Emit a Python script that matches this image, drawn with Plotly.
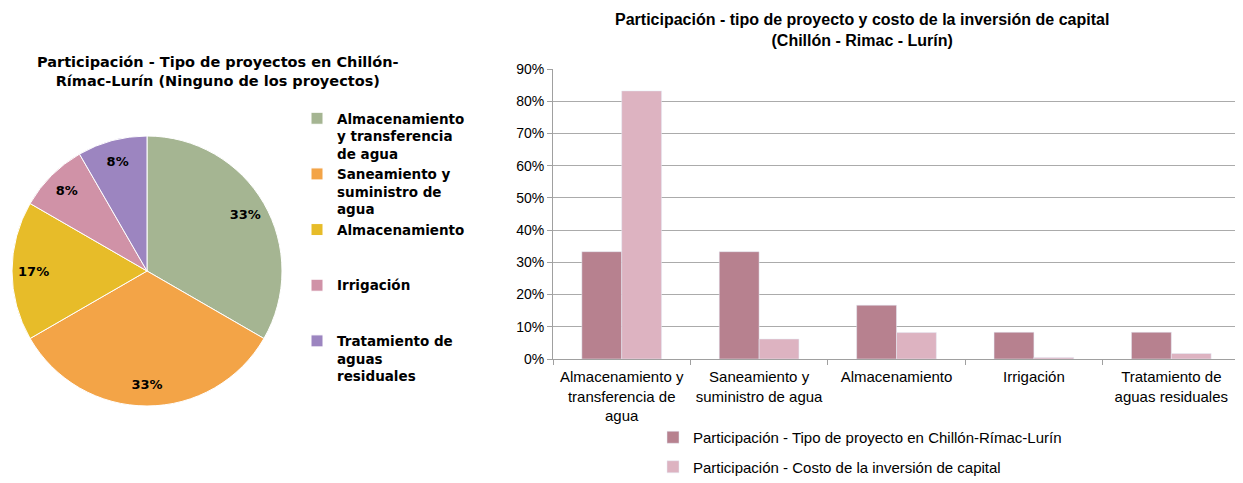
import plotly.graph_objects as go

# datos del grafico circular
pie_labels = ["Almacenamiento<br>y transferencia<br>de agua",
              "Saneamiento y<br>suministro de<br>agua",
              "Almacenamiento<br> <br> ",
              "Irrigación<br> <br> ",
              "Tratamiento de<br>aguas<br>residuales"]
pie_values = [4, 4, 2, 1, 1]
pie_colors = ["#A5B592", "#F3A447", "#E7BC29", "#D092A7", "#9C85C0"]

# datos del grafico de barras
bar_cats = ["Almacenamiento y<br>transferencia de<br>agua",
            "Saneamiento y<br>suministro de agua",
            "Almacenamiento",
            "Irrigación",
            "Tratamiento de<br>aguas residuales"]
tipo_proyecto = [0.333, 0.333, 0.167, 0.083, 0.083]
costo_inversion = [0.832, 0.062, 0.082, 0.005, 0.017]
y_ticks = [0, 0.1, 0.2, 0.3, 0.4, 0.5, 0.6, 0.7, 0.8, 0.9]

# la pagina html deja 8px de margen en el body
OFF = 8
W, H = 1243 - OFF, 483 - OFF


def fx(px):
    return (px - OFF) / W


def fy(py):
    return 1 - (py - OFF) / H


pie_font = "DejaVu Sans, Liberation Sans, sans-serif"
bar_font = "Liberation Sans, Arial, sans-serif"
pie_dom = dict(x=[fx(12), fx(282)], y=[fy(406), fy(136)])

fig = go.Figure()

fig.add_trace(go.Pie(
    labels=pie_labels, values=pie_values, sort=False, direction="clockwise",
    marker=dict(colors=pie_colors, line=dict(color="white", width=1)),
    textinfo="none", domain=pie_dom, legend="legend",
    hoverinfo="label+percent",
))
# anillo transparente solo para ubicar las etiquetas hacia el borde
fig.add_trace(go.Pie(
    labels=pie_labels, values=pie_values, sort=False, direction="clockwise",
    hole=0.68, showlegend=False,
    marker=dict(colors=["rgba(0,0,0,0)"] * len(pie_values), line=dict(width=0)),
    textinfo="percent", textposition="inside", insidetextorientation="horizontal",
    texttemplate="%{percent:.0%}",
    textfont=dict(family=pie_font, size=13, color="black", weight="bold"),
    domain=pie_dom, hoverinfo="skip",
))

fig.add_trace(go.Bar(
    x=bar_cats, y=tipo_proyecto, marker_color="#B7818F",
    name="Participación - Tipo de proyecto en Chillón-Rímac-Lurín",
    legend="legend2", legendgroup="a", xaxis="x", yaxis="y",
))
fig.add_trace(go.Bar(
    x=bar_cats, y=costo_inversion, marker_color="#DDB3C1",
    name="Participación - Costo de la inversión de capital",
    legend="legend2", legendgroup="b", xaxis="x", yaxis="y",
))

fig.update_layout(
    width=W, height=H,
    margin=dict(l=0, r=0, t=0, b=0),
    paper_bgcolor="white", plot_bgcolor="white",
    font=dict(family=bar_font, color="black"),
    barmode="group", bargap=0.42, bargroupgap=0,
    xaxis=dict(domain=[fx(553), fx(1240)], showline=True, linecolor="#A0A0A0",
               ticks="outside", tickson="boundaries", tickcolor="#A0A0A0",
               ticklen=5, tickfont=dict(size=15), showgrid=False,
               tickangle=0, automargin=False, ticklabelstandoff=4),
    yaxis=dict(domain=[fy(359), fy(69)], range=[0, 0.9], tickvals=y_ticks,
               tickformat=".0%", showline=True, linecolor="#A0A0A0",
               ticks="outside", tickcolor="#A0A0A0", ticklen=5,
               gridcolor="#ABABAB", gridwidth=1, tickfont=dict(size=14),
               zeroline=False, automargin=False),
    legend=dict(x=fx(297), y=fy(103), xanchor="left", yanchor="top",
                valign="top", traceorder="normal",
                font=dict(family=pie_font, size=13.5, weight="bold"),
                itemwidth=30, tracegroupgap=0),
    legend2=dict(x=fx(653), y=0, xanchor="left", yanchor="bottom",
                 orientation="v", font=dict(size=15), itemwidth=30,
                 traceorder="grouped", tracegroupgap=7),
    annotations=[
        dict(text="<b>Participación - Tipo de proyectos en Chillón-<br>Rímac-Lurín (Ninguno de los proyectos)</b>",
             x=fx(218), y=fy(52), xref="paper", yref="paper",
             xanchor="center", yanchor="top", showarrow=False,
             font=dict(family=pie_font, size=14.5)),
        dict(text="<b>Participación - tipo de proyecto y costo de la inversión de capital<br>(Chillón - Rimac - Lurín)</b>",
             x=fx(862), y=fy(9), xref="paper", yref="paper",
             xanchor="center", yanchor="top", showarrow=False,
             font=dict(size=16)),
    ],
)

fig.write_html("out.html")
